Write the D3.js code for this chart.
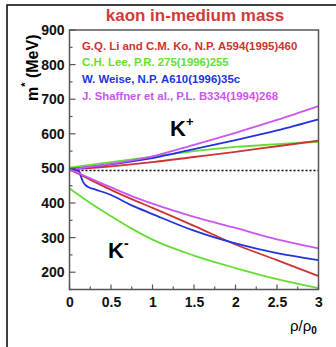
<!DOCTYPE html>
<html>
<head>
<meta charset="utf-8">
<script src="https://cdn.jsdelivr.net/npm/d3@7"></script>
<style>
  html, body { margin: 0; padding: 0; background: #fff; }
  svg { display: block; font-family: "Liberation Sans", Arial, sans-serif; }
</style>
</head>
<body>
<svg id="chart" width="336" height="347"></svg>
<script>
// Density grid (rho/rho0) shared by most curves
const rho = [0, 0.5, 1, 1.5, 2, 2.5, 3];
const rhoFine = [0, 0.25, 0.5, 0.75, 1, 1.5, 2, 2.5, 3];
// Weise K- curve has a sharp bend at low density
const rhoWeiseKm = [0, 0.08, 0.12, 0.14, 0.17, 0.22, 0.3, 0.5, 0.75, 1, 1.5, 2, 2.5, 3];

// K+ effective masses (MeV)
const liKoKp    = [497, 506, 518, 533, 548, 564, 580];
const leeKp     = [502, 518, 534, 550, 562, 570, 577];
const weiseKp   = [498, 512, 530, 556, 582, 610, 642];
const shaffKp   = [497, 513, 535, 568, 603, 640, 680];

// K- effective masses (MeV)
const liKoKm    = [497, 467, 438, 411, 386, 334, 280, 235, 189];
const leeKm     = [442, 400, 362, 326, 294, 248, 212, 180, 154];
const weiseKm   = [497, 494, 491, 475, 458, 447, 440, 423, 393, 368, 320, 283, 255, 235];
const shaffKm   = [497, 471, 445, 420, 398, 360, 328, 295, 269];

const kaonMass = 494;

const legendLabels = [
  "G.Q. Li and C.M. Ko, N.P. A594(1995)460",
  "C.H. Lee, P.R. 275(1996)255",
  "W. Weise, N.P. A610(1996)35c",
  "J. Shaffner et al., P.L. B334(1994)268"
];
const colors = ["#cc3333", "#66dd33", "#2233dd", "#cc55ee"];

const yTicks = [200, 300, 400, 500, 600, 700, 800, 900];
const xTicks = [0, 0.5, 1, 1.5, 2, 2.5, 3];
const xTickLabels = ["0", "0.5", "1", "1.5", "2", "2.5", "3"];

const svg = d3.select("#chart");

// outer frame (top and left edges)
svg.append("path")
  .attr("d", "M7,347 V5 H336")
  .attr("fill", "none").attr("stroke", "#000").attr("stroke-width", 1.5);

const pLeft = 69.5, pRight = 318.5, pTop = 30, pBottom = 289.5;
const x = d3.scaleLinear().domain([0, 3]).range([pLeft, pRight]);
const y = d3.scaleLinear().domain([150, 900]).range([pBottom, pTop]);

// title
svg.append("text")
  .attr("x", 195).attr("y", 21)
  .attr("text-anchor", "middle")
  .attr("font-size", 17).attr("font-weight", "bold")
  .attr("fill", "#d23a3a")
  .text("kaon in-medium mass");

// clip for curves
svg.append("clipPath").attr("id", "plotclip")
  .append("rect").attr("x", pLeft).attr("y", pTop).attr("width", pRight - pLeft).attr("height", pBottom - pTop);

const plot = svg.append("g").attr("clip-path", "url(#plotclip)");

// reference line at vacuum kaon mass
plot.append("line")
  .attr("x1", x(0)).attr("x2", x(3))
  .attr("y1", y(kaonMass)).attr("y2", y(kaonMass))
  .attr("stroke", "#000").attr("stroke-width", 1.6)
  .attr("stroke-dasharray", "2,2");

const line = d3.line().curve(d3.curveMonotoneX);

function curve(xs, ys, color) {
  plot.append("path")
    .attr("d", line(xs.map((r, i) => [x(r), y(ys[i])])))
    .attr("fill", "none").attr("stroke", color).attr("stroke-width", 1.8);
}

curve(rho, leeKp, colors[1]);
curve(rho, liKoKp, colors[0]);
curve(rho, weiseKp, colors[2]);
curve(rho, shaffKp, colors[3]);

curve(rhoFine, leeKm, colors[1]);
curve(rhoFine, liKoKm, colors[0]);
curve(rhoWeiseKm, weiseKm, colors[2]);
curve(rhoFine, shaffKm, colors[3]);

// axis frame
svg.append("rect")
  .attr("x", pLeft).attr("y", pTop).attr("width", pRight - pLeft).attr("height", pBottom - pTop)
  .attr("fill", "none").attr("stroke", "#555").attr("stroke-width", 1.5);

// y axis (ticks point inward)
const yAxis = d3.axisLeft(y).tickValues(yTicks).tickSize(0).tickPadding(5).tickFormat(d3.format("d"));
const gy = svg.append("g").attr("transform", `translate(${pLeft},0)`).call(yAxis);
gy.select(".domain").remove();
gy.selectAll("text").attr("font-size", 14).attr("font-weight", "bold").attr("fill", "#111")
  .attr("font-family", "Liberation Sans, Arial, sans-serif");
d3.range(150, 901, 50).forEach(v => {
  const major = v % 100 === 0;
  svg.append("line")
    .attr("x1", pLeft).attr("x2", pLeft + (major ? 6 : 3))
    .attr("y1", y(v)).attr("y2", y(v))
    .attr("stroke", "#555").attr("stroke-width", 1.2);
});

// x axis
const xAxis = d3.axisBottom(x).tickValues(xTicks).tickSize(0).tickPadding(8)
  .tickFormat((d, i) => xTickLabels[i]);
const gx = svg.append("g").attr("transform", `translate(0,${pBottom})`).call(xAxis);
gx.select(".domain").remove();
gx.selectAll("text").attr("font-size", 14).attr("font-weight", "bold").attr("fill", "#111")
  .attr("font-family", "Liberation Sans, Arial, sans-serif");
d3.range(0, 3.01, 0.25).forEach(r => {
  const major = Math.abs(r * 2 - Math.round(r * 2)) < 1e-6;
  svg.append("line")
    .attr("x1", x(r)).attr("x2", x(r))
    .attr("y1", pBottom).attr("y2", pBottom - (major ? 5 : 3))
    .attr("stroke", "#555").attr("stroke-width", 1.2);
});

// legend
legendLabels.forEach((t, i) => {
  svg.append("text")
    .attr("x", 82).attr("y", 49.5 + i * 16.7)
    .attr("font-size", 11.4).attr("font-weight", "bold")
    .attr("fill", colors[i])
    .text(t);
});

// K+ / K- labels
const kp = svg.append("text").attr("x", 170).attr("y", 135.5)
  .attr("font-size", 22).attr("font-weight", "bold").attr("fill", "#000");
kp.append("tspan").text("K");
kp.append("tspan").attr("font-size", 13).attr("dy", -10).text("+");

const km = svg.append("text").attr("x", 108).attr("y", 258)
  .attr("font-size", 22).attr("font-weight", "bold").attr("fill", "#000");
km.append("tspan").text("K");
km.append("tspan").attr("font-size", 14).attr("dy", -10).text("-");

// y axis title
const yl = svg.append("text")
  .attr("transform", "translate(38,101) rotate(-90)")
  .attr("font-size", 16).attr("font-weight", "bold").attr("fill", "#000");
yl.append("tspan").text("m");
yl.append("tspan").attr("font-size", 11).attr("dy", -9).text("*");
yl.append("tspan").attr("dy", 9).text(" (MeV)");

// x axis title
const xl = svg.append("text")
  .attr("x", 290).attr("y", 331)
  .attr("font-size", 15).attr("fill", "#000");
xl.append("tspan").text("ρ/ρ");
xl.append("tspan").attr("font-size", 10).attr("font-weight", "bold").attr("dy", 3).text("0");
</script>
</body>
</html>
